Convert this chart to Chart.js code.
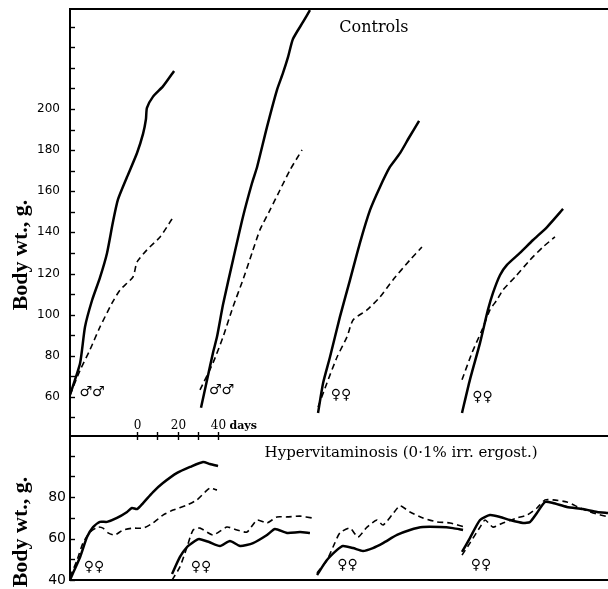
<!DOCTYPE html>
<html><head><meta charset="utf-8">
<script src="https://cdn.jsdelivr.net/npm/chart.js@4"></script>
<style>
html,body{margin:0;padding:0;background:#fff;}
#wrap{position:relative;width:608px;height:589px;overflow:hidden;}
canvas{position:absolute;left:0;top:0;}
</style></head><body>
<div id="wrap"><canvas id="cTop" width="608" height="589"></canvas><canvas id="cBot" width="608" height="589"></canvas></div>
<script>
// ---------- data (x = days on scale-bar axis, y = body weight g) ----------
const upperTickLabels = [60, 80, 100, 120, 140, 160, 180, 200];
const upperMinorTicks = [50, 60, 70, 80, 90, 100, 110, 120, 130, 140, 150, 160, 170, 180, 190, 200, 210, 220, 230, 240];
const lowerTickLabels = [40, 60, 80];
const lowerMinorTicks = [40, 50, 60, 70, 80, 90, 100];
const scaleBarDays = [0, 10, 20, 30, 40];
const scaleBarLabels = ['0', '', '20', '', '40'];
const scaleBarUnit = 'days';
const upperTitle = 'Controls';
const lowerTitle = 'Hypervitaminosis (0\u00b71% irr. ergost.)';
const yAxisTitle = 'Body wt., g.';

// Controls
const ctrl1Solid = [[-33.1,61],[-28.1,76.5],[-25.7,94],[-22.2,107],[-18.3,118],[-14.8,130],[-11.9,145],[-9.4,156],[-4.9,167],[0,178.6],[3,188],[4.4,195],[4.9,200.5],[7.9,206],[12.8,211],[18.3,218.5]];
const ctrl1Dash  = [[-33.1,61],[-28.1,73],[-23.2,83],[-18.3,94],[-12.3,105.7],[-8.4,112],[-2,118.3],[0,125.6],[4.9,131.5],[11.4,137.8],[17.3,146.5]];
const ctrl2Solid = [[31.6,54.7],[34.6,68.3],[37.5,81.4],[39.5,89.2],[42.5,105],[47.4,126.6],[52.3,147.5],[56.8,164],[59.3,171.8],[64.2,191.3],[69.1,209.2],[72.1,217.5],[74.6,225.3],[77,234],[82,242.3],[85.4,248]];
const ctrl2Dash  = [[31.1,63.4],[37.5,76.5],[42.5,89.2],[47.4,103.8],[52.3,116.9],[56.8,130],[60.7,141.2],[65.7,150.9],[70.6,160.6],[75.6,170.4],[81.5,180.1]];
const ctrl3Solid = [[89.4,52.2],[91.9,66.8],[95.3,79.4],[100.2,98.9],[105.2,116.9],[110.1,134.9],[115.1,150.9],[120,162.1],[124.9,171.8],[129.9,178.5],[134.3,186],[139.3,194.2]];
const ctrl3Dash  = [[89.4,55.1],[93.8,66.8],[98.8,79.4],[103.7,89.2],[106.7,97.4],[113.6,102.3],[120,108.6],[126.4,116.9],[134.8,126.6],[140.7,132.9]];
const ctrl4Solid = [[160.5,52.2],[164.4,68.3],[169.4,86.3],[173.3,102.3],[175.8,110.6],[179.3,119.3],[182.7,124.2],[189.1,130],[195.6,136.3],[202.5,142.6],[210.4,151.4]];
const ctrl4Dash  = [[160.5,68.3],[165.4,81.4],[170.4,92.6],[174.3,102.3],[177.8,107.2],[180.7,112],[186.7,118.3],[194.1,126.6],[200.5,132.9],[206.4,137.8]];

// Hypervitaminosis
const hyp1Solid = [[-33.1,40],[-31.6,43.4],[-28.1,51.1],[-24.7,60.7],[-21.7,65.5],[-18.3,68],[-14.8,68],[-9.9,69.9],[-4.9,72.8],[-2.5,74.7],[0,74.2],[3,77.1],[7.9,82.4],[12.8,86.7],[19.8,91.6],[26.2,94.5],[32.6,96.9],[36,95.9],[40,94.9]];
const hyp1Dash  = [[-33.1,41.4],[-29.6,49.6],[-26.7,57.8],[-23.2,63.1],[-19.3,65.5],[-16.8,65],[-14.3,62.7],[-10.9,61.7],[-6.9,64.1],[-2,65],[3,65],[7.9,67.5],[12.8,71.3],[17.8,73.7],[24.7,76.1],[29.6,78.6],[33.6,82.4],[36,84.3],[39.5,83.4]];
const hyp2Solid = [[17.3,42.9],[21.2,51.1],[24.7,55.9],[28.6,58.8],[30.6,59.8],[35.6,58.3],[41,56.4],[45.9,58.8],[50.9,56.4],[57.3,57.8],[64.2,61.7],[68.1,64.6],[74.1,62.7],[80.5,63.1],[85.4,62.7]];
const hyp2Dash  = [[17.3,40],[21.2,46.3],[24.7,55.9],[27.7,64.1],[31.1,65],[37.5,61.7],[44.4,65.5],[49.4,64.1],[54.3,63.1],[59.3,68.9],[64.2,67.5],[69.1,70.4],[74.1,70.4],[80.5,70.8],[86.4,69.9]];
const hyp3Solid = [[88.9,42.4],[93.8,49.6],[98.8,54.5],[101.7,56.4],[106.7,55.4],[111.6,54],[116.5,55.4],[121.5,57.8],[128.4,61.7],[134.8,64.1],[141.2,65.5],[149.6,65.5],[156,65],[161,64.1]];
const hyp3Dash  = [[88.9,43.4],[93.8,49.6],[96.8,55.9],[100.2,62.7],[105.2,65],[109.1,60.7],[113.6,65.5],[118.5,68.9],[121.5,66.5],[125.9,71.3],[129.9,75.7],[134.8,72.8],[141.2,69.9],[148.1,68],[154.6,67.5],[162,65.5]];
const hyp4Solid = [[160.5,53.5],[164.4,60.2],[169.4,68.9],[174.3,71.3],[179.3,70.4],[184.2,68.9],[190.6,67.5],[194.1,68],[197.5,72.3],[201.5,77.6],[205.4,77.1],[212.3,75.2],[220.2,74.2],[227.2,72.8],[232.6,72.3]];
const hyp4Dash  = [[160.5,52],[164.4,57.8],[169.4,65.5],[171.9,68.9],[175.8,65.5],[180.7,67.5],[187.7,69.9],[192.6,71.3],[197.5,74.7],[201.5,78.6],[205.4,78.6],[212.3,77.6],[218.8,74.7],[225.2,72.3],[232.6,70.4]];

const upperSymbols = [['\u2642\u2642', -22.2, 62.4], ['\u2642\u2642', 41.7, 63.4], ['\u2640\u2640', 100.7, 61], ['\u2640\u2640', 170.6, 60]];
const lowerSymbols = [['\u2640\u2640', -21.2, 46.3], ['\u2640\u2640', 31.6, 46.3], ['\u2640\u2640', 104, 47.2], ['\u2640\u2640', 169.9, 47.2]];

// ---------- rendering ----------
const X_MIN = -33.1, X_MAX = 232.6;
function ds(points, dashed) {
  return {
    data: points.map(([x, y]) => ({x, y})),
    borderColor: '#000', borderWidth: dashed ? 1.6 : 2.5,
    borderDash: dashed ? [6, 4] : [], pointRadius: 0, tension: 0.2, fill: false
  };
}

const framePlugin = {
  id: 'frame',
  afterDraw(chart, args, o) {
    const {ctx, chartArea: a, scales: {x, y}} = chart;
    ctx.save();
    ctx.strokeStyle = '#000'; ctx.fillStyle = '#000';
    ctx.lineWidth = 2;
    o.hlines.forEach(edge => {
      const yy = edge === 'top' ? a.top : a.bottom;
      ctx.beginPath(); ctx.moveTo(a.left - 1, yy); ctx.lineTo(a.right, yy); ctx.stroke();
    });
    ctx.lineWidth = 1.4;
    o.minor.forEach(v => {
      const py = Math.round(y.getPixelForValue(v)) + 0.5;
      ctx.beginPath(); ctx.moveTo(a.left, py); ctx.lineTo(a.left + 5, py); ctx.stroke();
    });
    // title inside plot
    ctx.font = o.titleFont; ctx.textAlign = 'center'; ctx.textBaseline = 'middle';
    ctx.fillText(o.title, x.getPixelForValue(o.titlePos[0]), y.getPixelForValue(o.titlePos[1]));
    // sex symbols
    ctx.font = 'bold 14px "DejaVu Sans"';
    o.symbols.forEach(([t, dx, dy]) => ctx.fillText(t, x.getPixelForValue(dx), y.getPixelForValue(dy)));
    // rotated axis title
    ctx.save();
    ctx.font = 'bold 22px "Liberation Serif"';
    ctx.translate(27, o.yTitleCenter); ctx.rotate(-Math.PI / 2);
    ctx.textAlign = 'center'; ctx.textBaseline = 'alphabetic';
    ctx.fillText(yAxisTitle, 0, 0);
    ctx.restore();
    // scale bar
    if (o.scaleBar) {
      ctx.lineWidth = 1.4;
      const yb = a.bottom;
      scaleBarDays.forEach((d, i) => {
        const px = Math.round(x.getPixelForValue(d)) + 0.5;
        ctx.beginPath(); ctx.moveTo(px, yb - 4); ctx.lineTo(px, yb + 4); ctx.stroke();
        if (scaleBarLabels[i]) {
          ctx.font = '12px "DejaVu Serif"'; ctx.textAlign = 'center'; ctx.textBaseline = 'alphabetic';
          ctx.fillText(scaleBarLabels[i], px, yb - 7);
        }
        if (i === scaleBarDays.length - 1) {
          ctx.font = 'bold 11px "DejaVu Serif"'; ctx.textAlign = 'left';
          ctx.fillText(scaleBarUnit, px + 11, yb - 7);
        }
      });
    }
    ctx.restore();
  }
};

function makeChart(id, datasets, yMin, yMax, padTop, padBottom, tickLabels, fontSize, tickPad, plugOpts) {
  return new Chart(document.getElementById(id), {
    type: 'line',
    data: {datasets},
    options: {
      responsive: false, animation: false, devicePixelRatio: 1,
      layout: {padding: {top: padTop, bottom: padBottom, left: 0, right: 0}},
      plugins: {legend: {display: false}, tooltip: {enabled: false}, title: {display: false}, frame: plugOpts},
      scales: {
        x: {type: 'linear', display: false, min: X_MIN, max: X_MAX},
        y: {
          type: 'linear', position: 'left', min: yMin, max: yMax,
          afterFit: s => { s.width = 70; s.paddingTop = 0; s.paddingBottom = 0; },
          afterBuildTicks: s => { s.ticks = tickLabels.map(v => ({value: v})); },
          ticks: {padding: tickPad, color: '#000', font: {family: 'DejaVu Sans', size: fontSize}},
          grid: {display: true, drawOnChartArea: false, drawTicks: false},
          border: {display: true, width: 2, color: '#000'}
        }
      }
    },
    plugins: [framePlugin]
  });
}

makeChart('cTop', [
  ds(ctrl1Solid, false), ds(ctrl1Dash, true), ds(ctrl2Solid, false), ds(ctrl2Dash, true),
  ds(ctrl3Solid, false), ds(ctrl3Dash, true), ds(ctrl4Solid, false), ds(ctrl4Dash, true)
], 41.0, 248.6, 9, 153, upperTickLabels, 12, 10, {
  hlines: ['top', 'bottom'], minor: upperMinorTicks, title: upperTitle, titleFont: '16px "DejaVu Serif"',
  titlePos: [117, 239.4], symbols: upperSymbols, yTitleCenter: 255, scaleBar: true
});

makeChart('cBot', [
  ds(hyp1Solid, false), ds(hyp1Dash, true), ds(hyp2Solid, false), ds(hyp2Dash, true),
  ds(hyp3Solid, false), ds(hyp3Dash, true), ds(hyp4Solid, false), ds(hyp4Dash, true)
], 40.0, 109.4, 436, 9, lowerTickLabels, 14, 4, {
  hlines: ['bottom'], minor: lowerMinorTicks, title: lowerTitle, titleFont: '15px "DejaVu Serif"',
  titlePos: [130.4, 101.2], symbols: lowerSymbols, yTitleCenter: 532, scaleBar: false
});
</script>
</body></html>
